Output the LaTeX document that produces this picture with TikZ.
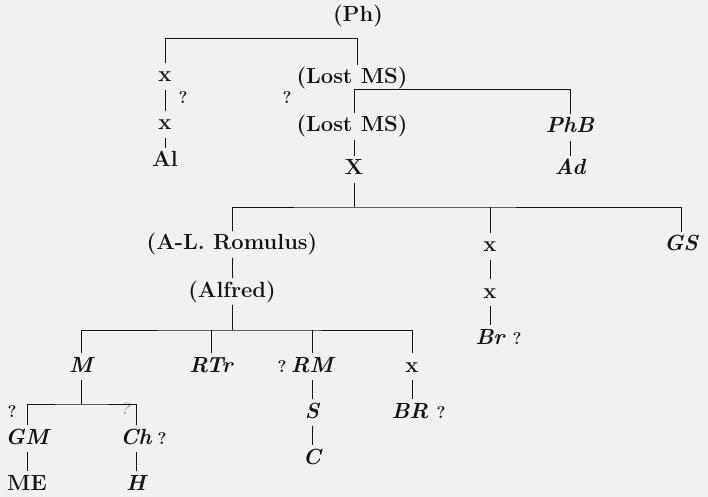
\documentclass[tikz,border=0pt]{standalone}
\usepackage{tikz}
\definecolor{bg}{RGB}{241,241,241}
\definecolor{ink}{RGB}{20,20,20}
\tikzset{
  lbl/.style={anchor=base, inner sep=2.5bp, text height=16bp, text depth=5bp,
    font=\fontsize{22}{26}\selectfont\bfseries, text=ink},
  it/.style={lbl, font=\fontsize{22}{26}\selectfont\bfseries\itshape},
  qm/.style={anchor=base, inner sep=1bp, font=\fontsize{17}{20}\selectfont\bfseries, text=ink},
  conn/.style={draw=ink, line width=0.9bp}
}
\begin{document}
\begin{tikzpicture}[x=1bp,y=-1bp]
\fill[bg] (0,0) rectangle (708,497);
\useasboundingbox (0,0) rectangle (708,497);
% top level
\node[lbl] (Ph) at (358,22) {(Ph)};
\node[lbl] (x1) at (165,82) {x};
\node[lbl] (LMS1) at (352,84) {(Lost MS)};
\node[qm] (q1) at (183,104) {?};
\node[qm] (q2) at (287,104) {?};
\node[lbl] (x2) at (165,130) {x};
\node[lbl] (LMS2) at (352,132) {(Lost MS)};
\node[it] (PhB) at (570,133) {PhB};
\node[lbl] (Al) at (165,167) {Al};
\node[lbl] (X) at (354,175) {X};
\node[it] (Ad) at (570,175) {Ad};
% second level
\node[lbl] (Rom) at (232,250) {(A-L. Romulus)};
\node[lbl] (xm1) at (490,252) {x};
\node[it] (GS) at (681,251) {GS};
\node[lbl] (Alf) at (232,297) {(Alfred)};
\node[lbl] (xm2) at (490,298) {x};
\node[it] (Br) at (490,344) {Br};
\node[qm] (qBr) at (517,344) {?};
% third level
\node[it] (M) at (81,372) {M};
\node[it] (RTr) at (211,372) {RTr};
\node[qm] (qRM) at (282,372) {?};
\node[it] (RM) at (312,372) {RM};
\node[lbl] (x3) at (412,372) {x};
\node[it] (S) at (312,418) {S};
\node[it] (BR) at (410,418) {BR};
\node[qm] (qBR) at (441,418) {?};
\node[it] (C) at (312,464) {C};
% fourth level
\node[qm] (qGM) at (12,417) {?};
\node[qm, text=gray!70, rotate=-15] (qCh) at (125,415) {?};
\node[it] (GM) at (27,444) {GM};
\node[it] (Ch) at (136,444) {Ch};
\node[qm] (qCh2) at (162,444) {?};
\node[lbl] (ME) at (27,490) {ME};
\node[it] (H) at (136,490) {H};
% brackets
\coordinate (b1) at (357,38);
\coordinate (b2) at (354,89);
\coordinate (b3) at (354,207);
\coordinate (b4) at (232,330);
\coordinate (b5) at (81,404);
\draw[conn] (x1.north) |- (b1) -- (b1 |- LMS1.north);
\draw[conn] (x1.south) -- (x2.north);
\draw[conn] (x2.south) -- (Al.north);
\draw[conn] (b2 |- LMS2.north) -- (b2) -| (PhB.north);
\draw[conn] (b2 |- LMS2.south) -- (X.north);
\draw[conn] (PhB.south) -- (Ad.north);
\draw[conn] (X.south) -- (b3);
\draw[conn] (Rom.north) |- (b3) -| (GS.north);
\draw[conn] (xm1.north) -- (xm1.north |- b3);
\draw[conn] (Rom.south) -- (Alf.north);
\draw[conn] (xm1.south) -- (xm2.north);
\draw[conn] (xm2.south) -- (Br.north);
\draw[conn] (Alf.south) -- (b4);
\draw[conn] (M.north) |- (b4) -| (x3.north);
\draw[conn] (RTr.north) -- (RTr.north |- b4);
\draw[conn] (RM.north) -- (RM.north |- b4);
\draw[conn] (RM.south) -- (S.north);
\draw[conn] (S.south) -- (C.north);
\draw[conn] (x3.south) -- (x3.south |- BR.north);
\draw[conn] (M.south) -- (b5);
\draw[conn] (GM.north) |- (b5) -| (Ch.north);
\draw[conn] (GM.south) -- (ME.north);
\draw[conn] (Ch.south) -- (H.north);
\end{tikzpicture}
\end{document}
